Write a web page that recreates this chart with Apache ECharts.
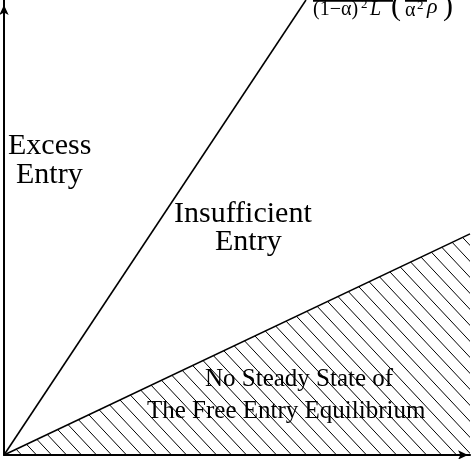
<!DOCTYPE html>
<html>
<head>
<meta charset="utf-8">
<script src="https://cdn.jsdelivr.net/npm/echarts@6/dist/echarts.min.js"></script>
<style>
html,body{margin:0;padding:0;background:#fff;}
#chart{width:474px;height:459px;}
</style>
</head>
<body>
<div id="chart"></div>
<script>
// Boundary between "Excess Entry" and "Insufficient Entry"
const entryBoundaryX = [0, 6.48];
const entryBoundaryY = [0, 10];
// Boundary of the no-steady-state region (hatched below)
const steadyBoundaryX = [0, 10];
const steadyBoundaryY = [0, 4.86];
// Region labels
const excessLabel = ['Excess', 'Entry'];
const insufficientLabel = ['Insufficient', 'Entry'];
const noSteadyLabel = ['No Steady State of', 'The Free Entry Equilibrium'];
const formulaLabel = ['(1−α)', '2', 'L', '(', 'α', '2', 'ρ', ')'];

function hatchPattern() {
  const w = 15, h = 16;
  const c = document.createElement('canvas');
  c.width = w; c.height = h;
  const ctx = c.getContext('2d');
  ctx.strokeStyle = '#000';
  ctx.lineWidth = 1;
  for (let k = -1; k <= 1; k++) {
    ctx.beginPath();
    ctx.moveTo(k * w - w, -h);
    ctx.lineTo(k * w + 2 * w, 2 * h);
    ctx.stroke();
  }
  return c;
}

const chart = echarts.init(document.getElementById('chart'), null, {renderer: 'canvas'});
const serif = '"Liberation Serif", "Times New Roman", serif';

function txt(x, y, s, size, extra) {
  return {
    type: 'text', x: x, y: y, silent: true, z: 100,
    style: Object.assign({text: s, font: size + 'px ' + serif, fill: '#000', verticalAlign: 'middle', align: 'left'}, extra || {})
  };
}

const option = {
  animation: false,
  backgroundColor: '#fff',
  grid: {left: 4, right: 4, top: 0, bottom: 4},
  xAxis: {
    type: 'value', min: 0, max: 10,
    axisLine: {show: true, onZero: false, lineStyle: {color: '#000', width: 2}, symbol: ['none', 'arrow'], symbolSize: [7, 10], symbolOffset: [0, -2]},
    axisTick: {show: false}, axisLabel: {show: false}, splitLine: {show: false}
  },
  yAxis: {
    type: 'value', min: 0, max: 10,
    axisLine: {show: true, onZero: false, lineStyle: {color: '#000', width: 2}, symbol: ['none', 'arrow'], symbolSize: [7, 10], symbolOffset: [0, -5]},
    axisTick: {show: false}, axisLabel: {show: false}, splitLine: {show: false}
  },
  series: [
    {
      type: 'line', silent: true, symbol: 'none',
      data: steadyBoundaryX.map((x, i) => [x, steadyBoundaryY[i]]),
      lineStyle: {color: '#000', width: 1.6},
      areaStyle: {color: {image: hatchPattern(), repeat: 'repeat'}, opacity: 1}
    },
    {
      type: 'line', silent: true, symbol: 'none',
      data: entryBoundaryX.map((x, i) => [x, entryBoundaryY[i]]),
      lineStyle: {color: '#000', width: 1.6}
    }
  ],
  graphic: [
    txt(8, 146, excessLabel[0], 30),
    txt(16, 175, excessLabel[1], 30),
    txt(174, 214, insufficientLabel[0], 30),
    txt(215, 242, insufficientLabel[1], 30),
    txt(205, 379.5, noSteadyLabel[0], 25),
    txt(147, 411.5, noSteadyLabel[1], 25),
    txt(313, 10, formulaLabel[0], 20),
    txt(361, 5, formulaLabel[1], 13),
    txt(370, 10, formulaLabel[2], 20, {font: 'italic 20px ' + serif}),
    txt(391, 7, formulaLabel[3], 30),
    txt(405, 11, formulaLabel[4], 20),
    txt(417, 6, formulaLabel[5], 13),
    txt(427, 7, formulaLabel[6], 22, {font: 'italic 22px ' + serif}),
    txt(443, 7, formulaLabel[7], 30),
    {type: 'line', silent: true, shape: {x1: 313, y1: 0.5, x2: 393, y2: 0.5}, style: {stroke: '#000', lineWidth: 2.5}},
    {type: 'line', silent: true, shape: {x1: 405, y1: 0.5, x2: 427, y2: 0.5}, style: {stroke: '#000', lineWidth: 2.5}}
  ]
};
chart.setOption(option);
</script>
</body>
</html>
